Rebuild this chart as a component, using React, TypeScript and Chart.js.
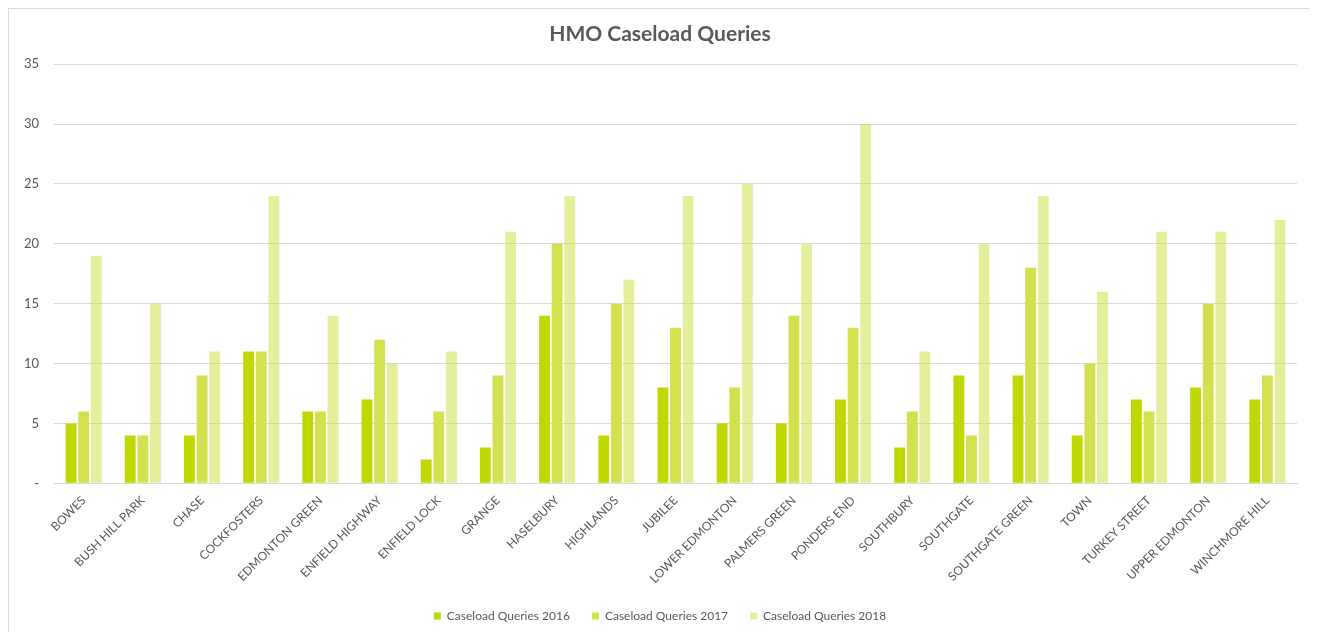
import React, { useEffect, useRef } from "react";
import { Chart, registerables } from "chart.js";

Chart.register(...registerables);

const categories = [
  "BOWES", "BUSH HILL PARK", "CHASE", "COCKFOSTERS", "EDMONTON GREEN", "ENFIELD HIGHWAY",
  "ENFIELD LOCK", "GRANGE", "HASELBURY", "HIGHLANDS", "JUBILEE", "LOWER EDMONTON",
  "PALMERS GREEN", "PONDERS END", "SOUTHBURY", "SOUTHGATE", "SOUTHGATE GREEN", "TOWN",
  "TURKEY STREET", "UPPER EDMONTON", "WINCHMORE HILL",
];
const queries2016 = [5, 4, 4, 11, 6, 7, 2, 3, 14, 4, 8, 5, 5, 7, 3, 9, 9, 4, 7, 8, 7];
const queries2017 = [6, 4, 9, 11, 6, 12, 6, 9, 20, 15, 13, 8, 14, 13, 6, 4, 18, 10, 6, 15, 9];
const queries2018 = [19, 15, 11, 24, 14, 10, 11, 21, 24, 17, 24, 25, 20, 30, 11, 20, 24, 16, 21, 21, 22];
const seriesNames = ["Caseload Queries 2016", "Caseload Queries 2017", "Caseload Queries 2018"];
const yTicks = [0, 5, 10, 15, 20, 25, 30, 35];

const FONT = "Lato, 'Liberation Sans', sans-serif";
const TEXT = "#595959";

export default function App() {
  const ref = useRef<HTMLCanvasElement | null>(null);
  useEffect(() => {
    if (!ref.current) return;
    const chart = new Chart(ref.current, {
      type: "bar",
      data: {
        labels: categories,
        datasets: [
          { label: seriesNames[0], data: queries2016, backgroundColor: "#c0d800", borderWidth: 0 },
          { label: seriesNames[1], data: queries2017, backgroundColor: "#d3e14e", borderWidth: 0 },
          { label: seriesNames[2], data: queries2018, backgroundColor: "rgba(206,224,64,0.52)", borderWidth: 0 },
        ],
      },
      options: {
        responsive: false,
        animation: false,
        layout: { padding: { left: 0, right: 0, top: 0, bottom: 0 } },
        datasets: { bar: { categoryPercentage: 0.64, barPercentage: 0.86 } },
        plugins: {
          title: {
            display: true,
            text: "HMO Caseload Queries",
            color: TEXT,
            font: { family: FONT, size: 21, weight: "bold" },
            padding: { top: 13, bottom: 17 },
          },
          legend: {
            position: "bottom",
            labels: {
              color: TEXT,
              font: { family: FONT, size: 12 },
              boxWidth: 7,
              boxHeight: 7,
              padding: 22,
            },
          },
          tooltip: { enabled: false },
        },
        scales: {
          x: {
            grid: { display: false },
            border: { color: "#d9d9d9" },
            ticks: {
              color: TEXT,
              font: { family: FONT, size: 12 },
              maxRotation: 45,
              minRotation: 45,
              autoSkip: false,
              padding: 2,
            },
          },
          y: {
            min: 0,
            max: 35,
            afterBuildTicks: (axis: any) => {
              axis.ticks = yTicks.map((v) => ({ value: v }));
            },
            grid: { color: "#d9d9d9", drawTicks: false },
            border: { display: false },
            ticks: {
              color: TEXT,
              font: { family: FONT, size: 13 },
              padding: 15,
              callback: (v: any) => (Number(v) === 0 ? "-" : String(v)),
            },
          },
          yRight: {
            position: "right",
            min: 0,
            max: 35,
            grid: { display: false },
            border: { display: false },
            ticks: { display: false },
            afterFit: (s: any) => {
              s.width = 14;
            },
          },
        },
      },
    });
    return () => chart.destroy();
  }, []);
  return (
    <div style={{ width: 1304, height: 640, border: "1px solid #d9d9d9", borderBottom: "none", boxSizing: "border-box" }}>
      <canvas ref={ref} width={1302} height={623} />
    </div>
  );
}
